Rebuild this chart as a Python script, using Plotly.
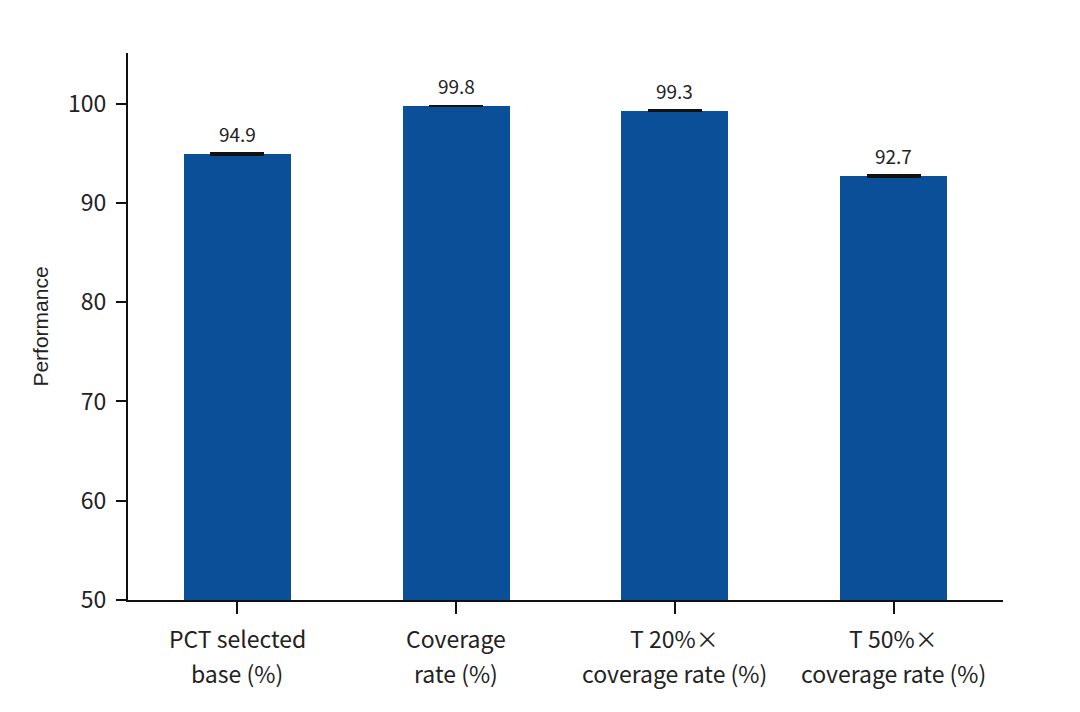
import plotly.graph_objects as go

categories = ["PCT selected<br>base (%)", "Coverage<br>rate (%)", "T 20%×<br>coverage rate (%)", "T 50%×<br>coverage rate (%)"]
values = [94.9, 99.8, 99.3, 92.7]
errors = [0.08, None, 0.08, 0.1]
labels = ["94.9", "99.8", "99.3", "92.7"]
yticks = [50, 60, 70, 80, 90, 100]

BAR = "#0b4f98"
FONT = "Noto Sans CJK SC"

fig = go.Figure()
fig.add_trace(go.Bar(
    x=list(range(len(categories))), y=values, width=0.49,
    marker=dict(color=BAR, line=dict(width=0)),
    error_y=dict(type="data", array=errors, visible=True, color="#111111", thickness=2, width=27),
))
for i, (v, t) in enumerate(zip(values, labels)):
    fig.add_annotation(x=i, y=v, text=t, showarrow=False, yanchor="bottom", yshift=5,
                       font=dict(family=FONT, size=19, color="#222222"))

# category labels (two lines each), positioned under the category ticks
for i, cat in enumerate(categories):
    for k, line in enumerate(cat.split("<br>")):
        fig.add_annotation(x=i, xref="x", y=0, yref="paper", text=line, showarrow=False,
                           yanchor="middle", yshift=-38 - 35 * k,
                           font=dict(family=FONT, size=23, color="#222222"))

fig.update_layout(
    width=1080, height=712,
    margin=dict(l=128, r=77, t=53, b=112),
    plot_bgcolor="white", paper_bgcolor="white",
    showlegend=False,
    bargap=0,
)
fig.update_xaxes(
    range=[-0.5, 3.5], tickmode="array", tickvals=list(range(len(categories))),
    showticklabels=False,
    showline=True, linecolor="#111111", linewidth=2, ticks="outside", ticklen=12, tickwidth=2,
    tickcolor="#111111", showgrid=False, zeroline=False,
)
fig.update_yaxes(
    range=[50, 105.1], tickvals=yticks, showline=True, linecolor="#111111", linewidth=2,
    ticks="outside", ticklen=10, tickwidth=2, tickcolor="#111111", showgrid=False, zeroline=False,
    ticklabelstandoff=5,
    tickfont=dict(family=FONT, size=23, color="#222222"),
    title=dict(text="Performance", font=dict(family="Liberation Sans", size=21, color="#222222"), standoff=14),
)
fig.write_html("out.html")
